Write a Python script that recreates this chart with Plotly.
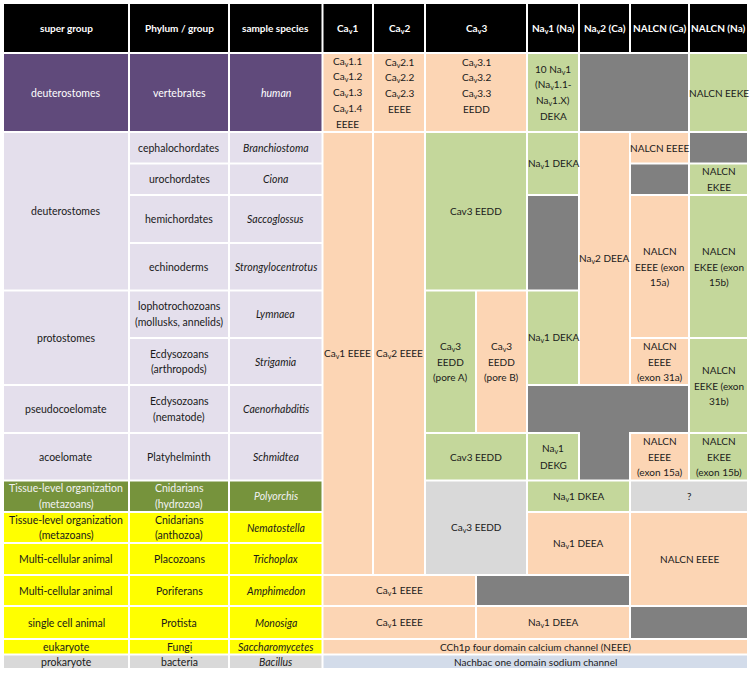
import plotly.graph_objects as go

# ---------------- data ----------------
header_labels = ["super group", "Phylum / group", "sample species", "Ca<sub>v</sub>1",
                 "Ca<sub>v</sub>2", "Ca<sub>v</sub>3", "Na<sub>v</sub>1 (Na)",
                 "Na<sub>v</sub>2 (Ca)", "NALCN (Ca)", "NALCN (Na)"]
header_spans = [(0, 0), (1, 1), (2, 2), (3, 3), (4, 4), (5, 6), (7, 7), (8, 8), (9, 9), (10, 10)]

# super group: (first row, last row, text, colour)
super_groups = [
    (1, 1, "deuterostomes", "purple"),
    (2, 5, "deuterostomes", "lavender"),
    (6, 7, "protostomes", "lavender"),
    (8, 8, "pseudocoelomate", "lavender"),
    (9, 9, "acoelomate", "lavender"),
    (10, 10, "Tissue-level organization<br>(metazoans)", "olive"),
    (11, 11, "Tissue-level organization<br>(metazoans)", "yellow"),
    (12, 12, "Multi-cellular animal", "yellow"),
    (13, 13, "Multi-cellular animal", "yellow"),
    (14, 14, "single cell animal", "yellow"),
    (15, 15, "eukaryote", "yellow"),
    (16, 16, "prokaryote", "gray_l"),
]
phyla = ["vertebrates", "cephalochordates", "urochordates", "hemichordates", "echinoderms",
         "lophotrochozoans<br>(mollusks, annelids)", "Ecdysozoans<br>(arthropods)",
         "Ecdysozoans<br>(nematode)", "Platyhelminth", "Cnidarians<br>(hydrozoa)",
         "Cnidarians<br>(anthozoa)", "Placozoans", "Poriferans", "Protista", "Fungi", "bacteria"]
species = ["human", "Branchiostoma", "Ciona", "Saccoglossus", "Strongylocentrotus", "Lymnaea",
           "Strigamia", "Caenorhabditis", "Schmidtea", "Polyorchis", "Nematostella",
           "Trichoplax", "Amphimedon", "Monosiga", "Saccharomycetes", "Bacillus"]
row_colours = ["purple"] + ["lavender"] * 8 + ["olive"] + ["yellow"] * 5 + ["gray_l"]

CA = "Ca<sub>v</sub>"
NA = "Na<sub>v</sub>"
# channel cells: (row0, row1, col0, col1, text, colour, valign)
channel_cells = [
    (1, 1, 3, 3, f"{CA}1.1<br>{CA}1.2<br>{CA}1.3<br>{CA}1.4<br>EEEE", "peach", "middle"),
    (1, 1, 4, 4, f"{CA}2.1<br>{CA}2.2<br>{CA}2.3<br>EEEE", "peach", "top"),
    (1, 1, 5, 6, f"{CA}3.1<br>{CA}3.2<br>{CA}3.3<br>EEDD", "peach", "top"),
    (1, 1, 7, 7, f"10 {NA}1<br>({NA}1.1-<br>{NA}1.X)<br>DEKA", "green", "middle"),
    (1, 1, 8, 9, "", "gray_d", "middle"),
    (1, 1, 10, 10, "NALCN EEKE", "green", "middle"),
    (2, 12, 3, 3, f"{CA}1 EEEE", "peach", "middle"),
    (2, 12, 4, 4, f"{CA}2 EEEE", "peach", "middle"),
    (2, 5, 5, 6, "Cav3 EEDD", "green", "middle"),
    (6, 8, 5, 5, f"{CA}3<br>EEDD<br>(pore A)", "green", "middle"),
    (6, 8, 6, 6, f"{CA}3<br>EEDD<br>(pore B)", "peach", "middle"),
    (9, 9, 5, 6, "Cav3 EEDD", "green", "middle"),
    (10, 12, 5, 6, f"{CA}3 EEDD", "gray_l", "middle"),
    (2, 3, 7, 7, f"{NA}1 DEKA", "green", "middle"),
    (4, 5, 7, 7, "", "gray_d", "middle"),
    (6, 7, 7, 7, f"{NA}1 DEKA", "green", "middle"),
    (2, 7, 8, 8, f"{NA}2 DEEA", "peach", "middle"),
    (8, 8, 7, 9, "", "gray_d", "middle"),
    (8, 9, 8, 8, "", "gray_d", "middle"),
    (9, 9, 7, 7, f"{NA}1<br>DEKG", "green", "middle"),
    (2, 2, 9, 9, "NALCN EEEE", "peach", "middle"),
    (2, 2, 10, 10, "", "gray_d", "middle"),
    (3, 3, 9, 9, "", "gray_d", "middle"),
    (3, 3, 10, 10, "NALCN<br>EKEE", "green", "middle"),
    (4, 6, 9, 9, "NALCN<br>EEEE (exon<br>15a)", "peach", "middle"),
    (4, 6, 10, 10, "NALCN<br>EKEE (exon<br>15b)", "green", "middle"),
    (7, 7, 9, 9, "NALCN<br>EEEE<br>(exon 31a)", "peach", "middle"),
    (7, 8, 10, 10, "NALCN<br>EEKE (exon<br>31b)", "green", "middle"),
    (9, 9, 9, 9, "NALCN<br>EEEE<br>(exon 15a)", "peach", "middle"),
    (9, 9, 10, 10, "NALCN<br>EKEE<br>(exon 15b)", "green", "middle"),
    (10, 10, 7, 8, f"{NA}1 DKEA", "green", "middle"),
    (10, 10, 9, 10, "?", "gray_l", "middle"),
    (11, 12, 7, 8, f"{NA}1 DEEA", "peach", "middle"),
    (11, 13, 9, 10, "NALCN EEEE", "peach", "middle"),
    (13, 13, 3, 5, f"{CA}1 EEEE", "peach", "middle"),
    (13, 13, 6, 8, "", "gray_d", "middle"),
    (14, 14, 3, 5, f"{CA}1 EEEE", "peach", "middle"),
    (14, 14, 6, 8, f"{NA}1 DEEA", "peach", "middle"),
    (14, 14, 9, 10, "", "gray_d", "middle"),
    (15, 15, 3, 10, "CCh1p four domain calcium channel (NEEE)", "peach", "middle"),
    (16, 16, 3, 10, "Nachbac one domain sodium channel", "bluegray", "middle"),
]

# ---------------- layout / style ----------------
COL_EDGES = [3, 129, 229, 322.5, 373, 425, 476, 527, 579, 630, 689, 748]
ROW_EDGES = [3, 53, 132, 163.5, 195, 243, 290.5, 338, 385, 433, 480.5, 512, 543, 575, 606,
             639, 654.5, 669]
COLOURS = {
    "black": "#000000", "purple": "#604A7B", "lavender": "#E4DFEC", "olive": "#76933C",
    "yellow": "#FFFF00", "gray_l": "#D9D9D9", "gray_d": "#808080", "peach": "#FCD5B4",
    "green": "#C4D79B", "bluegray": "#D3DCEA",
}
TEXT_COL = {"purple": "#FFFFFF", "olive": "#F2F2F2", "black": "#FFFFFF"}
FONT = "Lato, 'Open Sans', sans-serif"
LINE_H = 15.6
GAP = 1.0

fig = go.Figure()
shapes = []
annotations = []


def add_cell(r0, r1, c0, c1, text, colour, valign="middle", bold=False, italic=False, fs=10.5):
    x0 = COL_EDGES[c0] + GAP
    x1 = COL_EDGES[c1 + 1] - GAP
    y0 = ROW_EDGES[r0] + GAP
    y1 = ROW_EDGES[r1 + 1] - GAP
    shapes.append(dict(type="rect", xref="x", yref="y", x0=x0, x1=x1, y0=y0, y1=y1,
                       fillcolor=COLOURS[colour], line=dict(width=0), layer="below"))
    if not text:
        return
    lines = text.split("<br>")
    n = len(lines)
    if valign == "top":
        first = y0 + 8
    else:
        first = (y0 + y1) / 2 - (n - 1) * LINE_H / 2
    for k, ln in enumerate(lines):
        t = ln
        if bold:
            t = "<b>" + t + "</b>"
        if italic:
            t = "<i>" + t + "</i>"
        annotations.append(dict(x=(x0 + x1) / 2, y=first + k * LINE_H, xref="x", yref="y",
                                text=t, showarrow=False, xanchor="center", yanchor="middle",
                                align="center",
                                font=dict(family=FONT, size=fs,
                                          color=TEXT_COL.get(colour, "#1A1A1A"))))


for lab, (c0, c1) in zip(header_labels, header_spans):
    add_cell(0, 0, c0, c1, lab, "black", bold=True, fs=10)
for r0, r1, txt, col in super_groups:
    add_cell(r0, r1, 0, 0, txt, col)
for i, (ph, sp, col) in enumerate(zip(phyla, species, row_colours)):
    add_cell(i + 1, i + 1, 1, 1, ph, col)
    add_cell(i + 1, i + 1, 2, 2, sp, col, italic=True)
for r0, r1, c0, c1, txt, col, va in channel_cells:
    add_cell(r0, r1, c0, c1, txt, col, va, fs=10)

fig.update_layout(
    width=751, height=674, margin=dict(l=0, r=0, t=0, b=0),
    paper_bgcolor="white", plot_bgcolor="white",
    xaxis=dict(range=[0, 751], visible=False, fixedrange=True),
    yaxis=dict(range=[674, 0], visible=False, fixedrange=True),
    shapes=shapes, annotations=annotations, showlegend=False,
)
fig.write_html("out.html", config={"displayModeBar": False})

# remove the browser's default page margin so the figure fills the window exactly
with open("out.html", encoding="utf-8") as fh:
    html = fh.read()
html = html.replace("<head>", "<head><style>html,body{margin:0;padding:0;overflow:hidden;}</style>", 1)
with open("out.html", "w", encoding="utf-8") as fh:
    fh.write(html)
